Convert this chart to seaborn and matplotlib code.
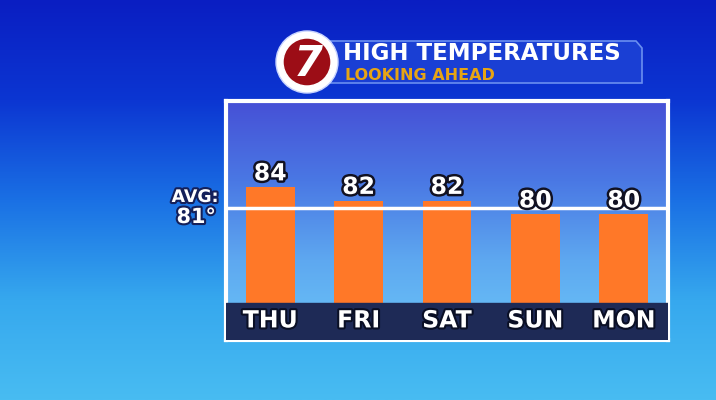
import numpy as np
import seaborn as sns
import matplotlib.pyplot as plt
import matplotlib.patheffects as pe
from matplotlib.colors import LinearSegmentedColormap
from matplotlib.patches import Circle, Polygon

days = ["THU", "FRI", "SAT", "SUN", "MON"]
highs = [84, 82, 82, 80, 80]
avg_high = 81
title = "HIGH TEMPERATURES"
subtitle = "LOOKING AHEAD"

sns.set_theme(style="white")
plt.rcParams["font.family"] = ["DejaVu Sans"]

fig = plt.figure(figsize=(7.16, 4.0), dpi=100)

# full-figure background in pixel coordinates
bg = fig.add_axes([0, 0, 1, 1])
bg_cmap = LinearSegmentedColormap.from_list("bg", ["#0a1ec2", "#0c36d2", "#1a70e4", "#36a8ee", "#48bcf2"])
grad = np.linspace(0, 1, 256).reshape(-1, 1)
bg.imshow(grad, cmap=bg_cmap, aspect="auto", extent=(0, 716, 400, 0))
bg.set_xlim(0, 716)
bg.set_ylim(400, 0)
bg.axis("off")

# title banner
banner = Polygon([(322, 41), (636, 41), (642, 48), (642, 83), (322, 83)], closed=True,
                 facecolor="#1a3fd4", edgecolor="#6a8ff0", lw=1.2, zorder=2)
bg.add_patch(banner)
bg.text(343, 53, title, color="white", fontsize=16.5, fontweight="bold",
        va="center", ha="left", zorder=4)
bg.text(345, 75, subtitle, color="#e6a414", fontsize=11.5, fontweight="bold",
        va="center", ha="left", zorder=4)

# logo
bg.add_patch(Circle((307, 62), 31, facecolor="white", edgecolor="#c8d4ff", lw=1, zorder=3))
bg.add_patch(Circle((307, 62), 24, facecolor="#9c0d16", zorder=4))
bg.text(308, 64, "7", color="white", fontsize=30, fontweight="bold", style="italic",
        ha="center", va="center", zorder=5)

# AVG label
shadow = [pe.withStroke(linewidth=3, foreground="#14205a")]
bg.text(219, 197, "AVG:", color="white", fontsize=12.5, fontweight="bold",
        ha="right", va="center", path_effects=shadow)
bg.text(216, 217, f"{avg_high}°", color="white", fontsize=15, fontweight="bold",
        ha="right", va="center", path_effects=shadow)

# chart box
ax = fig.add_axes([226 / 716, 60 / 400, 442 / 716, 239 / 400])
ymin, ymax = 61.4, 96.8
inner_cmap = LinearSegmentedColormap.from_list("inner", ["#4650d6", "#4a78e4", "#5ea8f0", "#6ac4f8"])
ax.imshow(grad, cmap=inner_cmap, aspect="auto", extent=(-0.5, 4.5, ymin, ymax), zorder=0)

sns.barplot(x=days, y=highs, color="#ff7828", width=0.55, saturation=1, ax=ax, zorder=2,
            edgecolor="none", linewidth=0)
ax.set_xlim(-0.5, 4.5)
ax.set_ylim(ymin, ymax)

# dark day band
ax.axhspan(ymin, 66.9, color="#1e2a56", zorder=3)
for i, d in enumerate(days):
    ax.text(i, 64.3, d, color="white", fontsize=17, fontweight="bold", ha="center", va="center",
            zorder=5, path_effects=[pe.withStroke(linewidth=3, foreground="#0a0f25")])

# average line
ax.axhline(avg_high, color="white", lw=2.5, zorder=4)

for i, v in enumerate(highs):
    ax.text(i, v + 0.3, str(v), color="white", fontsize=17, fontweight="bold", ha="center",
            va="bottom", zorder=6, path_effects=[pe.withStroke(linewidth=3.5, foreground="#111122")])

ax.set_xticks([])
ax.set_yticks([])
ax.set_xlabel("")
ax.set_ylabel("")
for s in ax.spines.values():
    s.set_color("white")
    s.set_linewidth(3)
    s.set_visible(True)

fig.savefig("out.png", dpi=100)
